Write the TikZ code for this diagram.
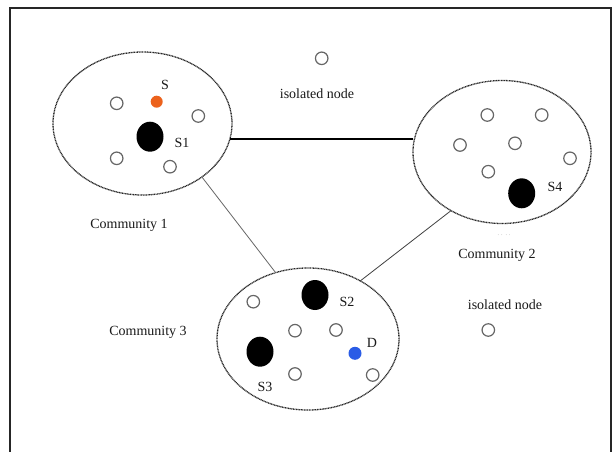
\documentclass[tikz,border=0pt]{standalone}
\usepackage{fontspec}
\setmainfont{Liberation Serif}
\usetikzlibrary{shapes.geometric}
\begin{document}
\begin{tikzpicture}[x=1pt,y=-1pt,
  community/.style={ellipse, draw=black!85, line width=1.3pt,
    dash pattern=on 1pt off 0.6pt, inner sep=0pt, outer sep=0pt},
  plain/.style={circle, draw=black!60, line width=1.2pt,
    minimum size=12.5pt, inner sep=0pt},
  server/.style={ellipse, fill=black, minimum width=27pt,
    minimum height=30pt, inner sep=0pt},
  source/.style={circle, fill=srcorange, minimum size=12pt, inner sep=0pt},
  dest/.style={circle, fill=dstblue, minimum size=13pt, inner sep=0pt},
  lbl/.style={font=\fontsize{14}{16}\selectfont, text=black!90, inner sep=0pt},
  link/.style={draw=black!75, line width=0.8pt}]
\definecolor{srcorange}{RGB}{236,98,28}
\definecolor{dstblue}{RGB}{42,92,230}

% canvas and frame
\fill[white] (0,0) rectangle (614,452);
\useasboundingbox (0,0) rectangle (614,452);
\draw[line width=1.8pt, draw=black!85] (10,452) -- (10,8) -- (611,8) -- (611,452);

% communities
\node[community, minimum width=179pt, minimum height=143pt] (c1) at (142.5,123.5) {};
\node[community, minimum width=178pt, minimum height=143pt] (c2) at (502,152) {};
\node[community, minimum width=182pt, minimum height=142pt] (c3) at (308,339) {};

% links between communities
\draw[link, line width=1.2pt, draw=black] (c1.-10) -- (c1.-10 -| c2.west);
\draw[link, draw=black!60] (c1.-42) -- (c3.116);
\draw[link] (c2.229) -- (c3.48);

% community 1
\node[plain] (a1) at (116.7,103.3) {};
\node[source] (s) at (156.7,101.7) {};
\node[lbl] (slbl) at (165,85) {S};
\node[plain] (a2) at (198.3,116) {};
\node[server] (s1) at (150,136.7) {};
\node[lbl] (s1lbl) at (182,143.3) {S1};
\node[plain] (a3) at (116.7,158.3) {};
\node[plain] (a4) at (170,166.7) {};
\node[lbl] (c1lbl) at (129,225) {Community 1};

% community 2
\node[plain] (b1) at (487.3,115) {};
\node[plain] (b2) at (541.7,115) {};
\node[plain] (b3) at (460,145) {};
\node[plain] (b4) at (515,143.3) {};
\node[plain] (b5) at (570,158.3) {};
\node[plain] (b6) at (488.3,171.7) {};
\node[server] (s4) at (521.7,193.3) {};
\node[lbl] (s4lbl) at (555,186.7) {S4};
\node[text=black!35, font=\fontsize{6}{6}\selectfont, inner sep=0pt] (dots) at (504,235) {.\,\,.\,\,\,.\,\,.};
\node[lbl] (c2lbl) at (497,255) {Community 2};

% community 3
\node[plain] (d1) at (253.3,301.7) {};
\node[server] (s2) at (315,295) {};
\node[lbl] (s2lbl) at (347,301.7) {S2};
\node[plain] (d2) at (295,330.7) {};
\node[plain] (d3) at (336,330) {};
\node[dest] (d) at (355,353.3) {};
\node[lbl] (dlbl) at (372,342.7) {D};
\node[server] (s3) at (260,351.7) {};
\node[plain] (d4) at (295,374) {};
\node[plain] (d5) at (372.7,375) {};
\node[lbl] (s3lbl) at (265,386.7) {S3};
\node[lbl] (c3lbl) at (148,332) {Community 3};

% isolated nodes
\node[plain] (iso1) at (321.7,58.3) {};
\node[lbl] (iso1lbl) at (317,93.3) {isolated node};
\node[lbl] (iso2lbl) at (505,305) {isolated node};
\node[plain] (iso2) at (488.3,330) {};
\end{tikzpicture}
\end{document}
